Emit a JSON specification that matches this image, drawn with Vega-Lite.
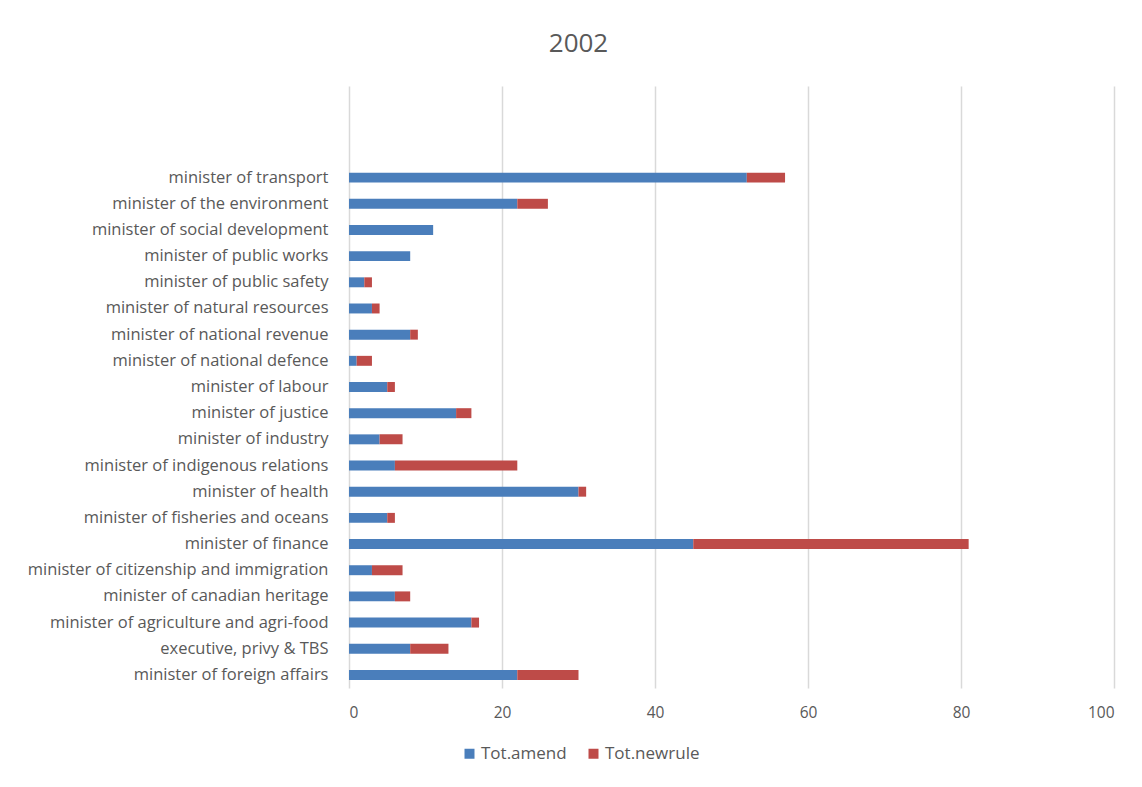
{
  "$schema": "https://vega.github.io/schema/vega-lite/v6.json",
  "width": 765,
  "height": 602,
  "autosize": {"type": "none"},
  "padding": {"left": 349, "top": 86, "right": 28, "bottom": 99},
  "background": "white",
  "title": {
    "text": "2002",
    "font": "Open Sans",
    "fontSize": 26,
    "fontWeight": "normal",
    "color": "#595959",
    "anchor": "middle",
    "dx": -153,
    "offset": 29
  },
  "config": {
    "view": {"stroke": null},
    "font": "Open Sans"
  },
  "data": {
    "values": [
      {"dept": "minister of transport", "series": "Tot.amend", "value": 52},
      {"dept": "minister of transport", "series": "Tot.newrule", "value": 5},
      {"dept": "minister of the environment", "series": "Tot.amend", "value": 22},
      {"dept": "minister of the environment", "series": "Tot.newrule", "value": 4},
      {"dept": "minister of social development", "series": "Tot.amend", "value": 11},
      {"dept": "minister of social development", "series": "Tot.newrule", "value": 0},
      {"dept": "minister of public works", "series": "Tot.amend", "value": 8},
      {"dept": "minister of public works", "series": "Tot.newrule", "value": 0},
      {"dept": "minister of public safety", "series": "Tot.amend", "value": 2},
      {"dept": "minister of public safety", "series": "Tot.newrule", "value": 1},
      {"dept": "minister of natural resources", "series": "Tot.amend", "value": 3},
      {"dept": "minister of natural resources", "series": "Tot.newrule", "value": 1},
      {"dept": "minister of national revenue", "series": "Tot.amend", "value": 8},
      {"dept": "minister of national revenue", "series": "Tot.newrule", "value": 1},
      {"dept": "minister of national defence", "series": "Tot.amend", "value": 1},
      {"dept": "minister of national defence", "series": "Tot.newrule", "value": 2},
      {"dept": "minister of labour", "series": "Tot.amend", "value": 5},
      {"dept": "minister of labour", "series": "Tot.newrule", "value": 1},
      {"dept": "minister of justice", "series": "Tot.amend", "value": 14},
      {"dept": "minister of justice", "series": "Tot.newrule", "value": 2},
      {"dept": "minister of industry", "series": "Tot.amend", "value": 4},
      {"dept": "minister of industry", "series": "Tot.newrule", "value": 3},
      {"dept": "minister of indigenous relations", "series": "Tot.amend", "value": 6},
      {"dept": "minister of indigenous relations", "series": "Tot.newrule", "value": 16},
      {"dept": "minister of health", "series": "Tot.amend", "value": 30},
      {"dept": "minister of health", "series": "Tot.newrule", "value": 1},
      {"dept": "minister of fisheries and oceans", "series": "Tot.amend", "value": 5},
      {"dept": "minister of fisheries and oceans", "series": "Tot.newrule", "value": 1},
      {"dept": "minister of finance", "series": "Tot.amend", "value": 45},
      {"dept": "minister of finance", "series": "Tot.newrule", "value": 36},
      {"dept": "minister of citizenship and immigration", "series": "Tot.amend", "value": 3},
      {"dept": "minister of citizenship and immigration", "series": "Tot.newrule", "value": 4},
      {"dept": "minister of canadian heritage", "series": "Tot.amend", "value": 6},
      {"dept": "minister of canadian heritage", "series": "Tot.newrule", "value": 2},
      {"dept": "minister of agriculture and agri-food", "series": "Tot.amend", "value": 16},
      {"dept": "minister of agriculture and agri-food", "series": "Tot.newrule", "value": 1},
      {"dept": "executive, privy & TBS", "series": "Tot.amend", "value": 8},
      {"dept": "executive, privy & TBS", "series": "Tot.newrule", "value": 5},
      {"dept": "minister of foreign affairs", "series": "Tot.amend", "value": 22},
      {"dept": "minister of foreign affairs", "series": "Tot.newrule", "value": 8}
    ]
  },
  "mark": {"type": "bar"},
  "encoding": {
    "y": {
      "field": "dept",
      "type": "nominal",
      "scale": {
        "domain": [" ", "  ", "   ",
          "minister of transport", "minister of the environment", "minister of social development",
          "minister of public works", "minister of public safety", "minister of natural resources",
          "minister of national revenue", "minister of national defence", "minister of labour",
          "minister of justice", "minister of industry", "minister of indigenous relations",
          "minister of health", "minister of fisheries and oceans", "minister of finance",
          "minister of citizenship and immigration", "minister of canadian heritage",
          "minister of agriculture and agri-food", "executive, privy & TBS", "minister of foreign affairs"],
        "paddingInner": 0.62,
        "paddingOuter": 0.31
      },
      "axis": {
        "title": null,
        "ticks": false,
        "domain": false,
        "grid": false,
        "labelFont": "Open Sans",
        "labelFontSize": 16.5,
        "labelColor": "#595959",
        "labelPadding": 21,
        "labelLimit": 400
      }
    },
    "x": {
      "field": "value",
      "type": "quantitative",
      "stack": "zero",
      "scale": {"domain": [0, 100], "nice": false},
      "axis": {
        "title": null,
        "values": [0, 20, 40, 60, 80, 100],
        "ticks": false,
        "domain": false,
        "grid": true,
        "gridColor": "#d9d9d9",
        "gridWidth": 1.5,
        "labelFont": "Open Sans",
        "labelFontSize": 15.5,
        "labelColor": "#595959",
        "labelPadding": 17
      }
    },
    "color": {
      "field": "series",
      "type": "nominal",
      "scale": {"domain": ["Tot.amend", "Tot.newrule"], "range": ["#4a7ebb", "#be4b48"]},
      "legend": {
        "title": null,
        "orient": "none",
        "direction": "horizontal",
        "legendX": 112,
        "legendY": 659,
        "symbolType": "square",
        "symbolSize": 100,
        "symbolStrokeWidth": 0,
        "labelFont": "Open Sans",
        "labelFontSize": 17,
        "labelColor": "#595959",
        "columnPadding": 18,
        "labelOffset": 3
      }
    },
    "order": {"field": "series", "type": "nominal", "sort": "ascending"}
  }
}
